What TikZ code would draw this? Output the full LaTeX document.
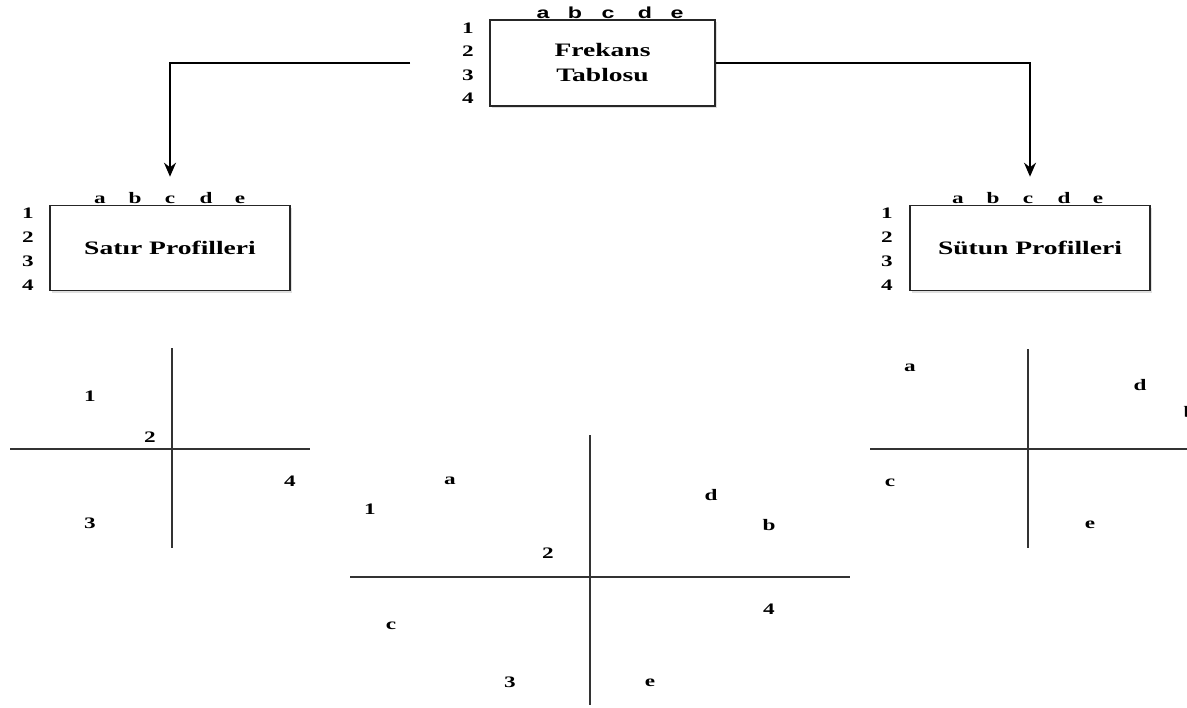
\documentclass[tikz,border=0pt]{standalone}
\usepackage{fontspec}
\setmainfont{Liberation Serif}[FakeStretch=1.45]
\newfontfamily\colfont{Liberation Sans}[FakeStretch=1.45]
\usetikzlibrary{arrows.meta,positioning,shadows}

\begin{document}
\begin{tikzpicture}[x=0.5pt,y=-0.5pt,
  tbl/.style={draw=black!85, line width=0.8pt, fill=white, minimum width=120pt,
    minimum height=42.5pt, align=center, font=\fontsize{9.5}{12.5}\selectfont\bfseries,
    drop shadow={shadow xshift=1pt, shadow yshift=-1pt, opacity=0.25}},
  lbl/.style={font=\fontsize{8}{9}\selectfont\bfseries, inner sep=0pt},
  col/.style={font=\colfont\fontsize{8}{9}\selectfont\bfseries, inner sep=0pt, anchor=base},
  axis/.style={draw=black!80, line width=0.9pt},
  arr/.style={line width=0.9pt, -{Stealth[length=7pt,width=6pt]}, shorten >=14pt}]
\clip (0,0) rectangle (1187,707);

% tables
\node[tbl, minimum width=112.5pt, minimum height=43pt] (frekans) at (602.5,63) {Frekans\\Tablosu};
\node[tbl] (satir) at (170,248) {Satır Profilleri};
\node[tbl] (sutun) at (1030,248) {Sütun Profilleri};

% row and column labels
\foreach \r/\y in {1/28,2/51,3/75,4/98}
  \node[lbl] (f\r) at (468,\y) {\r};
\foreach \c/\x in {a/543,b/575,c/608,d/645,e/677}
  \node[col] (f\c) at (\x,18) {\c};
\foreach \r/\y in {1/213,2/237,3/261,4/285} {
  \node[lbl] (s\r) at (28,\y) {\r};
  \node[lbl] (t\r) at (887,\y) {\r};
}
\foreach \c/\x in {a/100,b/135,c/170,d/206,e/240} {
  \node[lbl, anchor=base] (s\c) at (\x,203) {\c};
  \node[lbl, anchor=base] (t\c) at (\x+858,203) {\c};
}

% arrows
\coordinate (lstart) at (410,63);
\draw[arr] (lstart) -| (satir.north);
\draw[arr] (frekans.east) -| (sutun.north);

% row profiles plot
\draw[axis] (172,348) -- (172,548);
\draw[axis] (10,449) -- (310,449);
\node[lbl] (p1) at (90,396) {1};
\node[lbl] (p2) at (150,437) {2};
\node[lbl] (p4) at (290,481) {4};
\node[lbl] (p3) at (90,523) {3};

% column profiles plot
\draw[axis] (1028,349) -- (1028,548);
\draw[axis] (870,449) -- (1187,449);
\node[lbl] (qa) at (910,368) {a};
\node[lbl] (qd) at (1140,385) {d};
\node[lbl] (qb) at (1190,412) {b};
\node[lbl] (qc) at (890,483) {c};
\node[lbl] (qe) at (1090,525) {e};

% joint plot
\draw[axis] (590,435) -- (590,705);
\draw[axis] (350,577) -- (850,577);
\node[lbl] (ma) at (450,481) {a};
\node[lbl] (m1) at (370,509) {1};
\node[lbl] (md) at (711,495) {d};
\node[lbl] (mb) at (769,525) {b};
\node[lbl] (m2) at (548,553) {2};
\node[lbl] (m4) at (769,609) {4};
\node[lbl] (mc) at (391,626) {c};
\node[lbl] (m3) at (510,682) {3};
\node[lbl] (me) at (650,683) {e};
\end{tikzpicture}
\end{document}
